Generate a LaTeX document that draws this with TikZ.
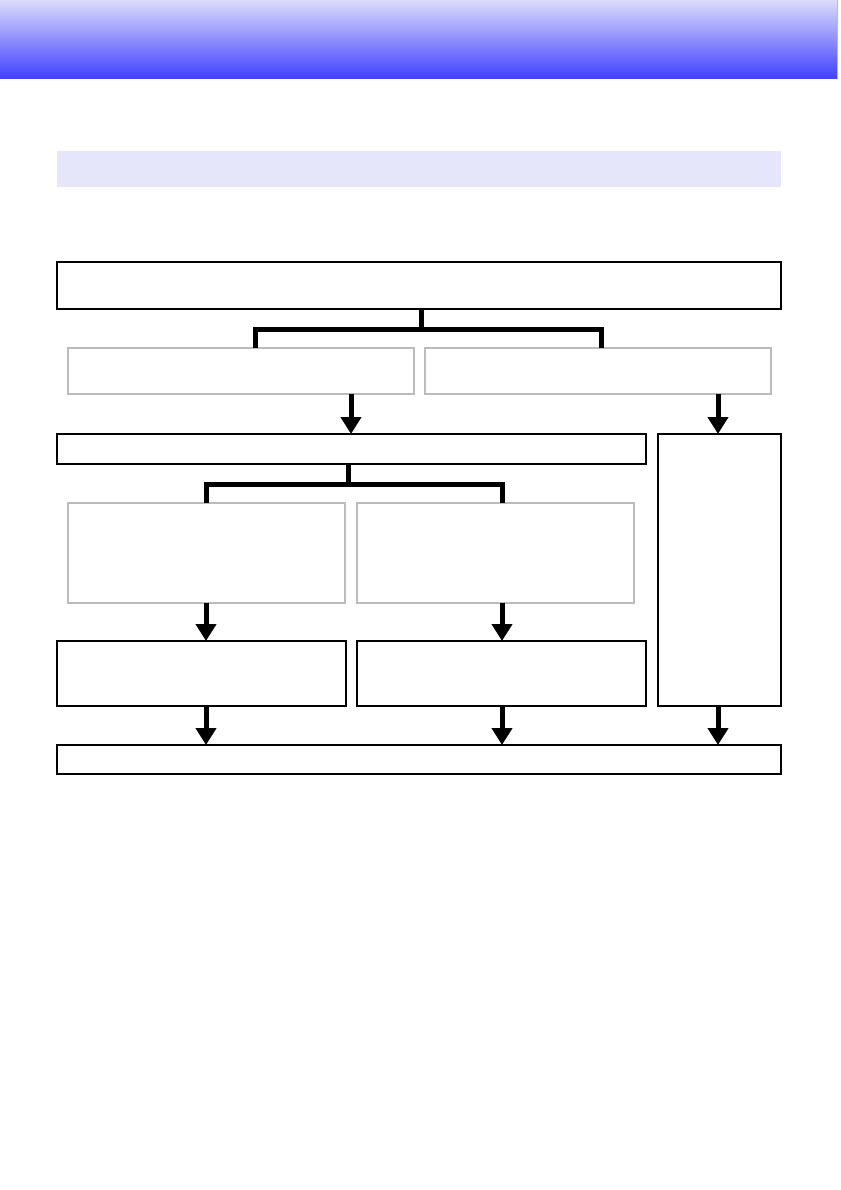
\documentclass[tikz,border=0pt]{standalone}
\usetikzlibrary{arrows.meta}
\definecolor{hdrtop}{HTML}{DCDCFA}
\definecolor{hdrbot}{HTML}{4040FF}
\definecolor{band}{HTML}{E6E6FA}
\definecolor{grayedge}{HTML}{BBBBBB}
\begin{document}
\begin{tikzpicture}[x=1pt,y=-1pt,
  box/.style={rectangle,inner sep=0pt,outer sep=0pt,fill=white,line width=2pt},
  blackbox/.style={box,draw=black},
  graybox/.style={box,draw=grayedge},
  tree/.style={line width=5pt},
  flow/.style={line width=5pt,-{Triangle[width=20pt,length=17pt]}}]
\useasboundingbox (0,0) rectangle (840,1190);
% header gradient
\shade[top color=hdrtop,bottom color=hdrbot] (0,0) rectangle (837,79);
\draw[grayedge,line width=0.8pt] (837.5,0) -- (837.5,79);
% section band
\node[box,fill=band,line width=0pt,minimum width=724pt,minimum height=36pt] (band) at (419,169) {};
% boxes
\node[blackbox,minimum width=724pt,minimum height=47pt] (b1) at (419,285.5) {};
\node[graybox,minimum width=346pt,minimum height=46pt] (g1l) at (241,371) {};
\node[graybox,minimum width=346pt,minimum height=46pt] (g1r) at (598,371) {};
\node[blackbox,minimum width=589pt,minimum height=30pt] (b3) at (351.5,449) {};
\node[blackbox,minimum width=123pt,minimum height=272pt] (tall) at (719.5,570) {};
\node[graybox,minimum width=277pt,minimum height=100pt] (g2l) at (206.5,553) {};
\node[graybox,minimum width=277pt,minimum height=100pt] (g2r) at (495.5,553) {};
\node[blackbox,minimum width=289pt,minimum height=65pt] (b4l) at (201.5,673.5) {};
\node[blackbox,minimum width=289pt,minimum height=65pt] (b4r) at (501.5,673.5) {};
\node[blackbox,minimum width=724pt,minimum height=29pt] (bot) at (419,759.5) {};
% column coordinates
\coordinate (x1) at (421,329);
\coordinate (x1l) at (255,329);
\coordinate (x1r) at (601,329);
\coordinate (x2) at (348,484);
\coordinate (x2l) at (206,484);
\coordinate (x2r) at (502,484);
\coordinate (xa) at (351,0);
\coordinate (xb) at (718,0);
% tree connectors
\draw[tree] (b1.south -| x1) -- (x1);
\draw[tree] (g1l.north -| x1l) -- (x1l) -- (x1r) -- (g1r.north -| x1r);
\draw[tree] (b3.south -| x2) -- (x2);
\draw[tree] (g2l.north -| x2l) -- (x2l) -- (x2r) -- (g2r.north -| x2r);
% arrows
\draw[flow] (g1l.south -| xa) -- (b3.north -| xa);
\draw[flow] (g1r.south -| xb) -- (tall.north -| xb);
\draw[flow] (g2l.south -| x2l) -- (b4l.north -| x2l);
\draw[flow] (g2r.south -| x2r) -- (b4r.north -| x2r);
\draw[flow] (b4l.south -| x2l) -- (bot.north -| x2l);
\draw[flow] (b4r.south -| x2r) -- (bot.north -| x2r);
\draw[flow] (tall.south -| xb) -- (bot.north -| xb);
\end{tikzpicture}
\end{document}
